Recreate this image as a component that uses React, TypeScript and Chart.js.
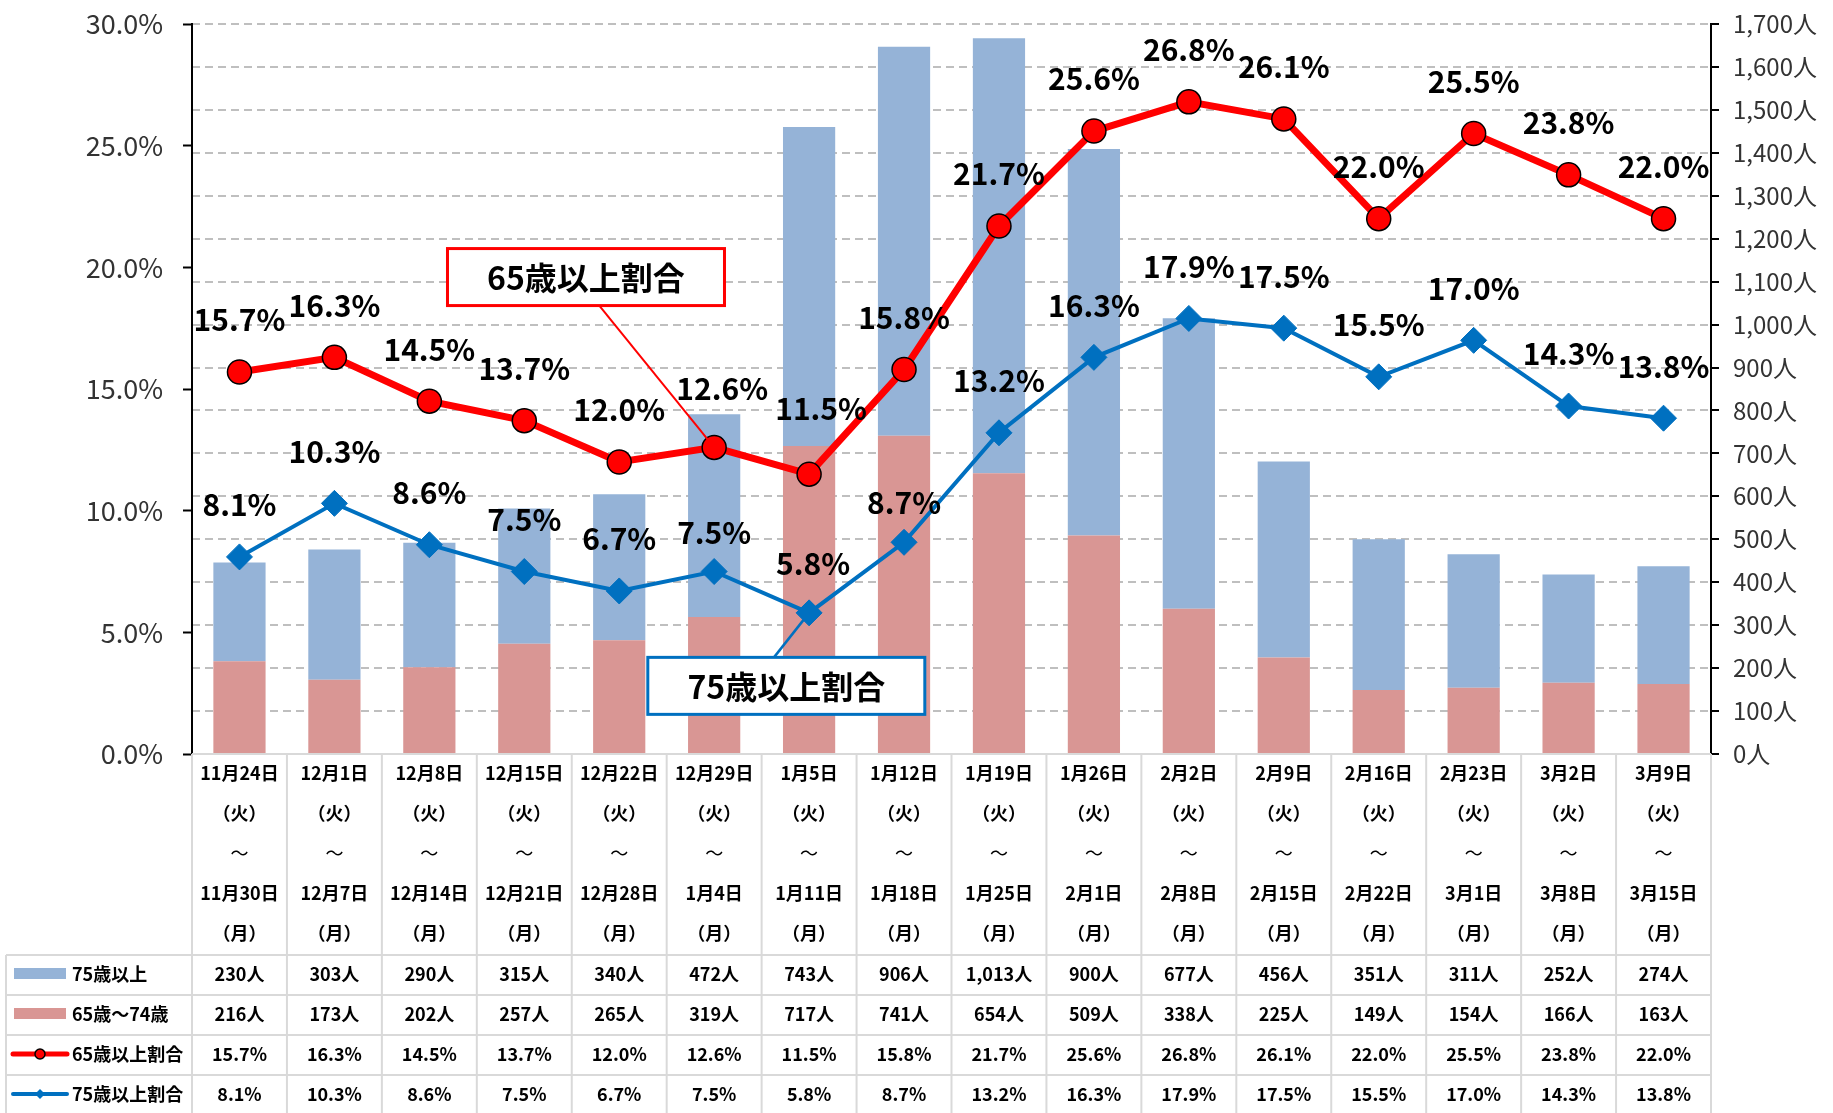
import { useEffect, useRef } from 'react';
import { Chart, registerables } from 'chart.js';

Chart.register(...registerables);

// ---------- data ----------
const weekStarts = ['11月24日', '12月1日', '12月8日', '12月15日', '12月22日', '12月29日', '1月5日', '1月12日', '1月19日', '1月26日', '2月2日', '2月9日', '2月16日', '2月23日', '3月2日', '3月9日'];
const weekEnds = ['11月30日', '12月7日', '12月14日', '12月21日', '12月28日', '1月4日', '1月11日', '1月18日', '1月25日', '2月1日', '2月8日', '2月15日', '2月22日', '3月1日', '3月8日', '3月15日'];
const over75 = [230, 303, 290, 315, 340, 472, 743, 906, 1013, 900, 677, 456, 351, 311, 252, 274];
const age65to74 = [216, 173, 202, 257, 265, 319, 717, 741, 654, 509, 338, 225, 149, 154, 166, 163];
const ratio65 = [15.7, 16.3, 14.5, 13.7, 12.0, 12.6, 11.5, 15.8, 21.7, 25.6, 26.8, 26.1, 22.0, 25.5, 23.8, 22.0];
const ratio75 = [8.1, 10.3, 8.6, 7.5, 6.7, 7.5, 5.8, 8.7, 13.2, 16.3, 17.9, 17.5, 15.5, 17.0, 14.3, 13.8];
const seriesNames = ['75歳以上', '65歳～74歳', '65歳以上割合', '75歳以上割合'];
const leftMax = 30;
const rightMax = 1700;

// ---------- styles ----------
const FONT = '"Noto Sans CJK JP", "Noto Sans", sans-serif';
const BLUE_BAR = '#95B3D7';
const PINK_BAR = '#D99694';
const RED = '#FF0000';
const BLUE = '#0070C0';
const TABLE_LINE = '#d9d9d9';
// small manual nudges of individual data labels (dataset-index: [dx, dy] in px)
const labelNudge: Record<string, [number, number]> = {
  '0-5': [8, -7],
  '0-6': [12, -14],
  '1-5': [0, 13],
  '1-6': [4, 3],
  '1-7': [0, 12],
};

const pct = (v: number) => v.toFixed(1) + '%';
const ppl = (v: number) => v.toLocaleString('en-US') + '人';

const labelPlugin = {
  id: 'pointLabels',
  afterDatasetsDraw(chart: any) {
    const { ctx } = chart;
    ctx.save();
    ctx.font = `bold 30px ${FONT}`;
    ctx.fillStyle = '#000';
    ctx.textAlign = 'center';
    ctx.textBaseline = 'middle';
    [0, 1].forEach((di) => {
      const meta = chart.getDatasetMeta(di);
      const data = chart.data.datasets[di].data as number[];
      meta.data.forEach((pt: any, i: number) => {
        const [dx, dy] = labelNudge[`${di}-${i}`] || [0, 0];
        ctx.fillText(pct(data[i]), pt.x + dx, pt.y - 52 + dy);
      });
    });

    // callouts
    const y = chart.scales.y;
    const left = chart.chartArea.left;
    const colW = (chart.chartArea.right - left) / weekStarts.length;
    const callouts = [
      { text: seriesNames[2], color: RED, cx: 4.15, cy: 19.6, anchorDx: 4.29, target: 0, idx: 5, fromTop: false, leadW: 2 },
      { text: seriesNames[3], color: BLUE, cx: 6.26, cy: 2.8, anchorDx: 6.13, target: 1, idx: 6, fromTop: true, leadW: 2.5 },
    ];
    callouts.forEach((c) => {
      const bw = 277, bh = 57;
      const px = left + c.cx * colW;
      const py = y.getPixelForValue(c.cy);
      const pt = chart.getDatasetMeta(c.target).data[c.idx];
      const ax = left + c.anchorDx * colW;
      const ay = c.fromTop ? py - bh / 2 : py + bh / 2;
      ctx.strokeStyle = c.color;
      ctx.lineWidth = c.leadW;
      ctx.beginPath();
      ctx.moveTo(ax, ay);
      ctx.lineTo(pt.x, pt.y);
      ctx.stroke();
      ctx.fillStyle = '#fff';
      ctx.fillRect(px - bw / 2, py - bh / 2, bw, bh);
      ctx.lineWidth = 3;
      ctx.strokeRect(px - bw / 2, py - bh / 2, bw, bh);
      ctx.fillStyle = '#000';
      ctx.font = `bold 32px ${FONT}`;
      ctx.fillText(c.text, px, py + 1);
    });
    ctx.restore();
  },
};

const tablePlugin = {
  id: 'dataTable',
  afterDraw(chart: any) {
    const { ctx, chartArea } = chart;
    const n = weekStarts.length;
    const left = chartArea.left;
    const right = chartArea.right;
    const colW = (right - left) / n;
    const top = chartArea.bottom;
    const headH = 201;
    const rowH = 40;
    const dataTop = top + headH;
    const tableLeft = 6;
    const bottom = dataTop + rowH * 4;

    ctx.save();
    ctx.strokeStyle = TABLE_LINE;
    ctx.lineWidth = 2;
    ctx.beginPath();
    ctx.moveTo(left, top);
    ctx.lineTo(right, top);
    for (let r = 0; r <= 4; r++) {
      ctx.moveTo(tableLeft, dataTop + r * rowH);
      ctx.lineTo(right, dataTop + r * rowH);
    }
    for (let k = 0; k <= n; k++) {
      ctx.moveTo(left + k * colW, top);
      ctx.lineTo(left + k * colW, bottom);
    }
    ctx.moveTo(tableLeft, dataTop);
    ctx.lineTo(tableLeft, bottom);
    ctx.stroke();

    ctx.fillStyle = '#000';
    ctx.textAlign = 'center';
    ctx.textBaseline = 'middle';
    for (let i = 0; i < n; i++) {
      const cx = left + (i + 0.5) * colW;
      const lines = [weekStarts[i], '（火）', '～', weekEnds[i], '（月）'];
      lines.forEach((t, li) => {
        ctx.font = li === 2 ? `18px ${FONT}` : `bold 18px ${FONT}`;
        ctx.fillText(t, cx, top + 19 + li * 40);
      });
      const vals = [ppl(over75[i]), ppl(age65to74[i]), pct(ratio65[i]), pct(ratio75[i])];
      ctx.font = `bold 18px ${FONT}`;
      vals.forEach((t, r) => ctx.fillText(t, cx, dataTop + r * rowH + 19));
    }

    // legend column
    ctx.textAlign = 'left';
    seriesNames.forEach((name, r) => {
      const cy = dataTop + r * rowH + 19;
      if (r === 0 || r === 1) {
        ctx.fillStyle = r === 0 ? BLUE_BAR : PINK_BAR;
        ctx.fillRect(14, cy - 6, 52, 11);
      } else if (r === 2) {
        ctx.strokeStyle = RED;
        ctx.lineWidth = 5;
        ctx.lineCap = 'round';
        ctx.beginPath();
        ctx.moveTo(13, cy);
        ctx.lineTo(67, cy);
        ctx.stroke();
        ctx.beginPath();
        ctx.arc(40, cy, 5, 0, Math.PI * 2);
        ctx.fillStyle = RED;
        ctx.fill();
        ctx.lineWidth = 1.5;
        ctx.strokeStyle = '#000';
        ctx.stroke();
      } else {
        ctx.strokeStyle = BLUE;
        ctx.lineWidth = 4;
        ctx.lineCap = 'round';
        ctx.beginPath();
        ctx.moveTo(13, cy);
        ctx.lineTo(67, cy);
        ctx.stroke();
        ctx.fillStyle = BLUE;
        ctx.beginPath();
        ctx.moveTo(40, cy - 5);
        ctx.lineTo(45, cy);
        ctx.lineTo(40, cy + 5);
        ctx.lineTo(35, cy);
        ctx.closePath();
        ctx.fill();
      }
      ctx.fillStyle = '#000';
      ctx.font = `bold 18px ${FONT}`;
      ctx.fillText(name, 72, cy);
    });
    ctx.restore();
  },
};

export default function App() {
  const ref = useRef<HTMLCanvasElement>(null);

  useEffect(() => {
    document.body.style.margin = '0';
    const canvas = ref.current;
    if (!canvas) return;
    Chart.defaults.font.family = FONT;
    const chart = new Chart(canvas, {
      type: 'bar',
      data: {
        labels: weekStarts,
        datasets: [
          {
            type: 'line',
            label: seriesNames[2],
            data: ratio65,
            yAxisID: 'y',
            borderColor: RED,
            backgroundColor: RED,
            borderWidth: 7,
            pointRadius: 12,
            pointBackgroundColor: RED,
            pointBorderColor: '#000',
            pointBorderWidth: 1.5,
            tension: 0,
            order: 0,
          },
          {
            type: 'line',
            label: seriesNames[3],
            data: ratio75,
            yAxisID: 'y',
            borderColor: BLUE,
            backgroundColor: BLUE,
            borderWidth: 4,
            pointStyle: 'rectRot',
            pointRadius: 13,
            pointBackgroundColor: BLUE,
            pointBorderColor: BLUE,
            pointBorderWidth: 1,
            tension: 0,
            order: 1,
          },
          {
            type: 'bar',
            label: seriesNames[1],
            data: age65to74,
            yAxisID: 'y1',
            backgroundColor: PINK_BAR,
            borderWidth: 0,
            barPercentage: 0.55,
            categoryPercentage: 1,
            order: 2,
          },
          {
            type: 'bar',
            label: seriesNames[0],
            data: over75,
            yAxisID: 'y1',
            backgroundColor: BLUE_BAR,
            borderWidth: 0,
            barPercentage: 0.55,
            categoryPercentage: 1,
            order: 2,
          },
        ],
      } as any,
      options: {
        responsive: false,
        animation: false,
        devicePixelRatio: 1,
        layout: { padding: { left: 0, right: 0, top: 24, bottom: 359 } },
        plugins: { legend: { display: false }, tooltip: { enabled: false } },
        scales: {
          x: { display: false, stacked: true, offset: true },
          y: {
            position: 'left',
            min: 0,
            max: leftMax,
            ticks: {
              stepSize: 5,
              callback: (v: any) => pct(Number(v)),
              font: { size: 27 },
              color: '#333',
              padding: 20,
            },
            grid: { drawOnChartArea: false, drawTicks: true, tickLength: 9, tickColor: '#000', tickWidth: 2 },
            border: { display: true, color: '#000', width: 2 },
            afterFit: (s: any) => { s.width = 192; s.paddingTop = 0; s.paddingBottom = 0; },
          },
          y1: {
            position: 'right',
            min: 0,
            max: rightMax,
            stacked: true,
            ticks: {
              stepSize: 100,
              callback: (v: any) => ppl(Number(v)),
              font: { size: 24 },
              color: '#333',
              padding: 14,
            },
            grid: {
              drawOnChartArea: true,
              color: (c: any) => (c.tick && c.tick.value === 0 ? 'rgba(0,0,0,0)' : '#bfbfbf'),
              lineWidth: 2,
              tickLength: 8,
              tickColor: '#000',
              tickWidth: 2,
            },
            border: { display: true, color: '#000', width: 2, dash: [8, 5] },
            afterFit: (s: any) => { s.width = 122; s.paddingTop = 0; s.paddingBottom = 0; },
          },
        },
      } as any,
      plugins: [labelPlugin, tablePlugin],
    });
    return () => chart.destroy();
  }, []);

  return (
    <div style={{ position: 'absolute', left: 0, top: 0, width: 1833, height: 1113, background: '#fff' }}>
      <canvas ref={ref} width={1833} height={1113} style={{ display: 'block', width: 1833, height: 1113 }} />
    </div>
  );
}
